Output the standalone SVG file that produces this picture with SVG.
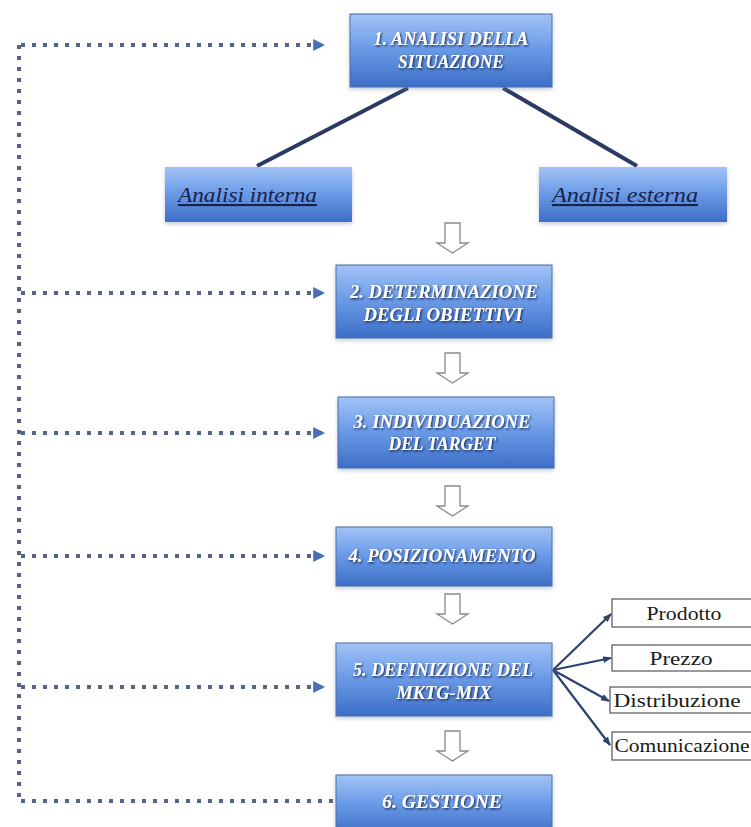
<svg xmlns="http://www.w3.org/2000/svg" width="751" height="827" viewBox="0 0 751 827">
  <defs>
    <linearGradient id="boxFill" x1="0" y1="0" x2="0" y2="1">
      <stop offset="0" stop-color="#a2c3f6"/>
      <stop offset="0.45" stop-color="#6d9de8"/>
      <stop offset="1" stop-color="#3c6ec6"/>
    </linearGradient>
    <filter id="textShadow" x="-10%" y="-30%" width="120%" height="160%">
      <feDropShadow dx="1" dy="1.2" stdDeviation="0.9" flood-color="#15244d" flood-opacity="1"/>
    </filter>
    <filter id="boxShadow" x="-10%" y="-20%" width="120%" height="150%">
      <feDropShadow dx="0" dy="2" stdDeviation="2" flood-color="#7a8aa8" flood-opacity="0.45"/>
    </filter>
    <marker id="dotHead" viewBox="0 0 10 10" refX="9" refY="5" markerWidth="3" markerHeight="3" orient="auto" markerUnits="strokeWidth">
      <path d="M0,0 L10,5 L0,10 Z" fill="#4a6fb5"/>
    </marker>
    <marker id="fanHead" viewBox="0 0 10 10" refX="9" refY="5" markerWidth="4" markerHeight="4" orient="auto" markerUnits="strokeWidth">
      <path d="M0,1 L10,5 L0,9 Z" fill="#2c4270"/>
    </marker>
    <path id="downArrow" d="M8,0 H23 V20 H31 L15.5,30 L0,20 H8 Z"/>
  </defs>
  <style>
    .step rect { fill: url(#boxFill); stroke: #4d6ea6; stroke-width: 1; filter: url(#boxShadow); }
    .step text { font-family: "Liberation Serif", "DejaVu Serif", serif; font-weight: bold; font-style: italic; font-size: 18px; fill: #ffffff; text-anchor: middle; filter: url(#textShadow); }
    .sub rect { fill: url(#boxFill); stroke: none; filter: url(#boxShadow); }
    .sub text { font-family: "Liberation Serif", "DejaVu Serif", serif; font-style: italic; font-size: 21px; fill: #17224a; text-decoration: underline; }
    .mix rect { fill: #ffffff; stroke: #555555; stroke-width: 1.2; }
    .mix text { font-family: "Liberation Serif", "DejaVu Serif", serif; font-size: 19px; fill: #1a1a1a; text-anchor: middle; }
    .flow use { fill: #ffffff; stroke: #8a8a8a; stroke-width: 1.3; }
    .dotted { fill: none; stroke: #56648a; stroke-width: 4; stroke-dasharray: 4 7; }
    .branch { stroke: #2a3a62; stroke-width: 4; fill: none; }
    .fan { stroke: #2c4270; stroke-width: 2.2; fill: none; marker-end: url(#fanHead); }
  </style>

  <!-- connectors -->
  <g id="connectors">
    <!-- feedback loop on the left -->
    <path class="dotted" d="M19,45 V801"/>
    <path class="dotted" d="M21,45 H324" marker-end="url(#dotHead)"/>
    <path class="dotted" d="M21,293 H324" marker-end="url(#dotHead)"/>
    <path class="dotted" d="M21,433 H324" marker-end="url(#dotHead)"/>
    <path class="dotted" d="M21,556 H324" marker-end="url(#dotHead)"/>
    <path class="dotted" d="M21,687 H324" marker-end="url(#dotHead)"/>
    <path class="dotted" d="M21,801 H336"/>
    <!-- branches from step 1 -->
    <line class="branch" x1="408" y1="88" x2="257" y2="166"/>
    <line class="branch" x1="503" y1="88" x2="637" y2="166"/>
    <!-- fan from step 5 to the mix elements -->
    <line class="fan" x1="553" y1="670" x2="611" y2="614"/>
    <line class="fan" x1="553" y1="670" x2="611" y2="658"/>
    <line class="fan" x1="553" y1="670" x2="609" y2="701"/>
    <line class="fan" x1="553" y1="670" x2="610" y2="745"/>
    <!-- hollow flow arrows between steps -->
    <g class="flow">
      <use href="#downArrow" x="437" y="223"/>
      <use href="#downArrow" x="437" y="353"/>
      <use href="#downArrow" x="437" y="486"/>
      <use href="#downArrow" x="437" y="594"/>
      <use href="#downArrow" x="437" y="731"/>
    </g>
  </g>

  <!-- steps -->
  <g id="step1" class="step">
    <rect x="350" y="14" width="202" height="73"/>
    <text x="451" y="45" textLength="155" lengthAdjust="spacingAndGlyphs">1. ANALISI  DELLA</text>
    <text x="451" y="68" textLength="106" lengthAdjust="spacingAndGlyphs">SITUAZIONE</text>
  </g>
  <g id="analisi-interna" class="sub">
    <rect x="165" y="167" width="187" height="55"/>
    <text x="178" y="202" textLength="139" lengthAdjust="spacingAndGlyphs">Analisi interna</text>
  </g>
  <g id="analisi-esterna" class="sub">
    <rect x="539" y="167" width="188" height="55"/>
    <text x="552" y="202" textLength="146" lengthAdjust="spacingAndGlyphs">Analisi esterna</text>
  </g>
  <g id="step2" class="step">
    <rect x="336" y="265" width="216" height="73"/>
    <text x="444" y="298" textLength="188" lengthAdjust="spacingAndGlyphs">2. DETERMINAZIONE</text>
    <text x="443" y="321" textLength="159" lengthAdjust="spacingAndGlyphs">DEGLI OBIETTIVI</text>
  </g>
  <g id="step3" class="step">
    <rect x="338" y="397" width="216" height="71"/>
    <text x="442" y="428" textLength="177" lengthAdjust="spacingAndGlyphs">3. INDIVIDUAZIONE</text>
    <text x="442" y="450" textLength="107" lengthAdjust="spacingAndGlyphs">DEL TARGET</text>
  </g>
  <g id="step4" class="step">
    <rect x="336" y="527" width="216" height="59"/>
    <text x="442" y="562" textLength="187" lengthAdjust="spacingAndGlyphs">4. POSIZIONAMENTO</text>
  </g>
  <g id="step5" class="step">
    <rect x="336" y="643" width="216" height="73"/>
    <text x="443" y="676" textLength="180" lengthAdjust="spacingAndGlyphs">5. DEFINIZIONE DEL</text>
    <text x="444" y="699" textLength="95" lengthAdjust="spacingAndGlyphs">MKTG-MIX</text>
  </g>
  <g id="step6" class="step">
    <rect x="336" y="775" width="216" height="60"/>
    <text x="442" y="808" textLength="120" lengthAdjust="spacingAndGlyphs">6. GESTIONE</text>
  </g>

  <!-- marketing mix elements -->
  <g id="prodotto" class="mix">
    <rect x="612" y="599" width="140" height="28"/>
    <text x="684" y="620" textLength="75" lengthAdjust="spacingAndGlyphs">Prodotto</text>
  </g>
  <g id="prezzo" class="mix">
    <rect x="612" y="645" width="140" height="26"/>
    <text x="681" y="665" textLength="63" lengthAdjust="spacingAndGlyphs">Prezzo</text>
  </g>
  <g id="distribuzione" class="mix">
    <rect x="610" y="687" width="142" height="26"/>
    <text x="677" y="707" textLength="127" lengthAdjust="spacingAndGlyphs">Distribuzione</text>
  </g>
  <g id="comunicazione" class="mix">
    <rect x="612" y="732" width="140" height="28"/>
    <text x="682" y="752" textLength="135" lengthAdjust="spacingAndGlyphs">Comunicazione</text>
  </g>
</svg>
